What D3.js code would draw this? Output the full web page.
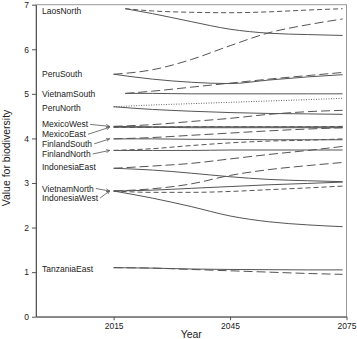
<!DOCTYPE html>
<html>
<head>
<meta charset="utf-8">
<script src="https://cdn.jsdelivr.net/npm/d3@7"></script>
<style>
  body { margin: 0; background: #fff; }
  text { font-family: "Liberation Sans", Arial, sans-serif; }
</style>
</head>
<body>
<script>
const width = 357;
const height = 339;

// Years of the projections (two regions only start in 2018)
const years = [2015, 2025, 2035, 2045, 2055, 2065, 2074];
const lateYears = [2018, 2025, 2035, 2045, 2055, 2065, 2074];
const xTicks = [2015, 2045, 2075];
const yTicks = [0, 1, 2, 3, 4, 5, 6, 7];

// Each region: [scenario, values]. base = solid, long = long dash, short = short dash, dot = dotted
const laosNorth     = [['base',  [6.91, 6.80, 6.62, 6.45, 6.36, 6.33, 6.31]],
                       ['short', [6.91, 6.86, 6.83, 6.82, 6.84, 6.88, 6.91]]];
const peruSouth     = [['base',  [5.44, 5.33, 5.26, 5.23, 5.31, 5.38, 5.43]],
                       ['long',  [5.44, 5.54, 5.77, 6.08, 6.37, 6.55, 6.68]]];
const vietnamSouth  = [['base',  [5.01, 5.01, 5.00, 5.00, 5.00, 5.00, 5.00]],
                       ['long',  [5.01, 5.06, 5.15, 5.24, 5.33, 5.41, 5.48]]];
const peruNorth     = [['base',  [4.71, 4.65, 4.61, 4.58, 4.56, 4.55, 4.54]],
                       ['dot',   [4.71, 4.75, 4.78, 4.81, 4.84, 4.87, 4.90]]];
const mexicoWest    = [['base',  [4.27, 4.26, 4.26, 4.26, 4.26, 4.26, 4.26]],
                       ['long',  [4.27, 4.31, 4.38, 4.45, 4.54, 4.60, 4.63]]];
const mexicoEast    = [['base',  [4.25, 4.25, 4.24, 4.24, 4.24, 4.24, 4.24]],
                       ['short', [4.25, 4.25, 4.26, 4.26, 4.26, 4.26, 4.27]]];
const finlandSouth  = [['base',  [3.99, 3.99, 3.98, 3.98, 3.97, 3.97, 3.97]],
                       ['long',  [3.99, 4.02, 4.07, 4.12, 4.17, 4.21, 4.24]]];
const finlandNorth  = [['base',  [3.73, 3.73, 3.73, 3.74, 3.74, 3.74, 3.74]],
                       ['short', [3.73, 3.77, 3.84, 3.90, 3.94, 3.96, 3.99]]];
const indonesiaEast = [['base',  [3.33, 3.29, 3.22, 3.14, 3.08, 3.05, 3.03]],
                       ['long',  [3.33, 3.38, 3.44, 3.54, 3.64, 3.73, 3.82]]];
const vietnamNorth  = [['base',  [2.82, 2.84, 2.88, 2.92, 2.96, 2.99, 3.02]],
                       ['long',  [2.82, 2.87, 2.98, 3.17, 3.30, 3.39, 3.46]]];
const indonesiaWest = [['base',  [2.82, 2.66, 2.47, 2.26, 2.13, 2.06, 2.02]],
                       ['short', [2.82, 2.79, 2.79, 2.81, 2.85, 2.89, 2.93]]];
const tanzaniaEast  = [['base',  [1.10, 1.09, 1.07, 1.06, 1.055, 1.05, 1.05]],
                       ['long',  [1.10, 1.09, 1.06, 1.03, 1.00, 0.97, 0.95]]];

const regions = [
  {name: 'LaosNorth', years: lateYears, lines: laosNorth},
  {name: 'PeruSouth', years: years, lines: peruSouth},
  {name: 'VietnamSouth', years: lateYears, lines: vietnamSouth},
  {name: 'PeruNorth', years: years, lines: peruNorth},
  {name: 'MexicoWest', years: years, lines: mexicoWest},
  {name: 'MexicoEast', years: years, lines: mexicoEast},
  {name: 'FinlandSouth', years: years, lines: finlandSouth},
  {name: 'FinlandNorth', years: years, lines: finlandNorth},
  {name: 'IndonesiaEast', years: years, lines: indonesiaEast},
  {name: 'VietnamNorth', years: years, lines: vietnamNorth},
  {name: 'IndonesiaWest', years: years, lines: indonesiaWest},
  {name: 'TanzaniaEast', years: years, lines: tanzaniaEast}
];

// label layout (pixel nudges) and which labels get an arrow
const labelNudge = {LaosNorth: 2, VietnamSouth: 1, PeruNorth: 1.5, MexicoWest: -2, MexicoEast: 7,
                    FinlandSouth: 5, FinlandNorth: 3.5, IndonesiaEast: -1, VietnamNorth: -2.5,
                    IndonesiaWest: 7, TanzaniaEast: 1};
const arrowed = ['MexicoWest', 'MexicoEast', 'FinlandSouth', 'FinlandNorth', 'VietnamNorth', 'IndonesiaWest'];
const dashes = {base: null, long: '9,4', short: '5,3', dot: '1,1.5'};

const svg = d3.select('body').append('svg').attr('width', width).attr('height', height);

const x = d3.scaleLinear().domain([1995, 2075]).range([36, 346.5]);
const y = d3.scaleLinear().domain([0, 7]).range([316.7, 4.7]);

svg.append('defs').append('marker')
  .attr('id', 'arrow').attr('viewBox', '0 0 6 6').attr('refX', 5.5).attr('refY', 3)
  .attr('markerWidth', 5).attr('markerHeight', 5).attr('orient', 'auto')
  .append('path').attr('d', 'M0,0.5L5.5,3L0,5.5').attr('fill', 'none').attr('stroke', '#555').attr('stroke-width', 1);

// frame
svg.append('rect')
  .attr('x', x(1995)).attr('y', y(7))
  .attr('width', x(2075) - x(1995)).attr('height', y(0) - y(7))
  .attr('fill', 'none').attr('stroke', '#999').attr('stroke-width', 1);

// axes
const yAxis = svg.append('g').attr('transform', `translate(${x(1995)},0)`)
  .call(d3.axisLeft(y).tickValues(yTicks).tickSize(4).tickSizeOuter(0).tickFormat(d3.format('d')));
const xAxis = svg.append('g').attr('transform', `translate(0,${y(0)})`)
  .call(d3.axisBottom(x).tickValues(xTicks).tickSize(3.5).tickSizeOuter(0).tickFormat(d3.format('d')));
[xAxis, yAxis].forEach(a => {
  a.select('.domain').attr('stroke', '#555');
  a.selectAll('.tick line').attr('stroke', '#555');
  a.selectAll('.tick text').attr('font-size', 8.5).attr('fill', '#222').style('font-family', '"Liberation Sans", Arial, sans-serif');
});

svg.append('text').attr('x', (x(1995) + x(2075)) / 2).attr('y', 338)
  .attr('text-anchor', 'middle').attr('font-size', 10.5).attr('fill', '#222').text('Year');
svg.append('text').attr('transform', 'translate(10,158) rotate(-90)')
  .attr('text-anchor', 'middle').attr('font-size', 10.5).attr('fill', '#222').text('Value for biodiversity');

// lines
const line = d3.line().x(d => x(d[0])).y(d => y(d[1])).curve(d3.curveMonotoneX);
const lineG = svg.append('g');
regions.forEach(r => {
  r.lines.forEach(([sc, vals]) => {
    lineG.append('path')
      .datum(vals.map((v, i) => [r.years[i], v]))
      .attr('d', line)
      .attr('fill', 'none')
      .attr('stroke', '#555')
      .attr('stroke-width', sc === 'dot' ? 0.9 : 1)
      .attr('stroke-dasharray', dashes[sc]);
  });
});

// labels + arrows
const labelG = svg.append('g');
regions.forEach(r => {
  const v0 = r.lines[0][1][0];
  const cy = y(v0) + (labelNudge[r.name] || 0);
  const t = labelG.append('text').attr('x', 42).attr('y', cy + 3)
    .attr('font-size', 8.5).attr('fill', '#222').text(r.name);
  if (arrowed.includes(r.name)) {
    const len = t.node().getComputedTextLength();
    labelG.append('line')
      .attr('x1', 42 + len + 2).attr('y1', cy)
      .attr('x2', x(r.years[0]) - 4).attr('y2', y(v0))
      .attr('stroke', '#555').attr('stroke-width', 0.8)
      .attr('marker-end', 'url(#arrow)');
  }
});
</script>
</body>
</html>
